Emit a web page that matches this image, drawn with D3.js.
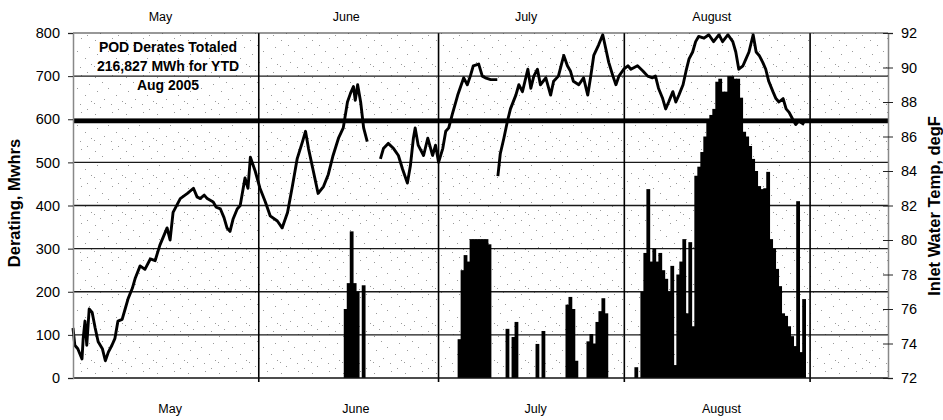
<!DOCTYPE html>
<meta charset="utf-8">
<script src="https://d3js.org/d3.v7.min.js"></script>
<style>
  body { margin: 0; background: #fff; }
  text { font-family: "Liberation Sans", Arial, sans-serif; fill: #000; }
</style>
<div id="chart"></div>
<script>
  // ---- data ----
  // days counted from May 1, 2005
  var monthNames = ["May", "June", "July", "August"];
  var leftTicks = [0, 100, 200, 300, 400, 500, 600, 700, 800];
  var rightTicks = [72, 74, 76, 78, 80, 82, 84, 86, 88, 90, 92];
  var limitMwh = 596;
  var noteLines = ["POD Derates Totaled", "216,827 MWh for YTD", "Aug 2005"];

  // inlet water temperature, degF (null = gap in record)
  var tempDay = [
    0.0, 0.3, 0.8, 1.5, 1.7, 2.0, 2.3, 2.7, 3.2, 3.7, 4.2, 4.9, 5.4, 5.9, 6.5, 7.0, 7.5, 8.2, 8.7, 9.2,
    9.9, 10.4, 11.2, 12.0, 12.9, 13.7, 14.5, 15.7, 16.2, 16.7, 17.9, 19.1, 20.1, 20.7, 21.2, 21.9, 22.4,
    23.4, 23.9, 24.6, 25.2, 25.7, 26.2, 26.7, 27.4, 27.9, 28.7, 29.2, 29.6, 30.4, 31.2, 32.1, 32.9, 34.1,
    34.9, 35.8, 36.6, 37.4, 38.3, 38.8, 39.3, 40.1, 40.9, 41.8, 42.6, 43.4, 44.3, 45.1, 45.8, 46.3, 46.8,
    47.1, 47.5, 48.0, 48.5, 49.1, 50.2,
    51.3, 51.8, 52.6, 53.5, 54.3, 55.0, 55.8, 56.3, 56.8, 57.1, 57.6, 58.5, 59.2, 60.0, 60.5, 61.0, 61.7,
    62.2, 62.7, 63.3, 64.2, 65.2, 65.8, 66.3, 66.8, 67.7, 68.3, 68.8, 69.7, 70.8, 70.85,
    70.9, 71.3, 71.9, 72.5, 73.0, 73.9, 74.4, 75.0, 75.9, 76.4, 76.9, 77.5, 78.0, 78.9, 79.7, 80.2, 81.0,
    81.9, 82.5, 83.0, 83.5, 84.4, 85.2, 85.9, 86.4, 86.9, 87.7, 88.4, 88.9, 89.4, 90.1, 90.6, 91.1, 91.9,
    92.6, 93.1, 94.2, 95.1, 95.9, 96.7, 97.2, 97.7, 98.4, 98.9, 99.4, 100.1, 100.6, 101.1, 101.8, 102.3,
    102.8, 103.4, 103.9, 104.4, 105.3, 106.1, 106.9, 107.8, 108.4, 109.3, 110.1, 110.6, 111.1, 111.8,
    112.3, 112.8, 113.5, 114.0, 114.5, 115.1, 115.6, 116.1, 116.8, 117.3, 117.8, 118.5, 119.0, 119.5,
    120.1, 120.6, 121.1, 122.0
  ];
  var tempF = [
    74.9, 73.9, 73.7, 73.1, 74.3, 75.3, 73.9, 76.0, 75.8, 74.9, 74.1, 73.7, 73.0, 73.5, 73.9, 74.3, 75.3, 75.4, 76.0, 76.6,
    77.2, 77.8, 78.5, 78.3, 78.9, 78.8, 79.7, 80.7, 80.0, 81.6, 82.4, 82.7, 83.0, 82.5, 82.4, 82.6, 82.4,
    82.2, 81.9, 81.8, 81.3, 80.7, 80.5, 81.2, 81.8, 82.0, 83.6, 83.0, 84.8, 84.0, 83.0, 82.2, 81.4, 81.1,
    80.7, 81.6, 83.1, 84.7, 85.7, 86.3, 85.3, 84.0, 82.7, 83.1, 83.8, 84.9, 85.9, 86.5, 88.0, 88.5, 88.9,
    88.1, 89.0, 88.0, 86.5, 85.7, null,
    84.7, 85.3, 85.6, 85.3, 84.9, 84.1, 83.3, 84.3, 85.9, 86.5, 85.5, 84.9, 85.9, 84.9, 85.5, 84.5, 85.3,
    86.3, 86.5, 87.3, 88.4, 89.4, 89.0, 89.5, 90.1, 90.2, 89.5, 89.4, 89.3, 89.3, null,
    83.7, 85.0, 85.9, 86.9, 87.6, 88.4, 89.0, 88.6, 89.9, 88.8, 89.5, 89.9, 89.0, 89.4, 88.4, 89.2, 89.5,
    90.7, 90.1, 89.8, 89.2, 89.0, 89.4, 88.4, 89.5, 90.7, 91.3, 91.9, 91.1, 90.3, 89.5, 89.0, 89.5, 89.9,
    90.1, 89.9, 90.1, 89.8, 89.5, 89.4, 89.5, 88.8, 88.2, 87.6, 88.0, 88.6, 88.0, 88.4, 89.0, 89.8,
    90.5, 90.9, 91.5, 91.8, 91.7, 91.9, 91.5, 91.9, 91.5, 91.9, 91.5, 90.9, 89.9, 90.1,
    90.5, 90.9, 91.9, 90.9, 90.7, 90.3, 89.9, 89.2, 88.6, 88.2, 88.0, 88.2, 87.6, 87.4,
    87.0, 86.7, 86.9, 86.7
  ];

  // derating, MWh (half-day bars, centre day)
  var barDay = [
    45.5, 46.0, 46.5, 47.0, 47.5, 48.5,
    64.5, 65.0, 65.5, 66.0, 66.5, 67.0, 67.5, 68.0, 68.5, 69.0, 69.5,
    72.5, 73.5, 74.0, 77.5, 78.5,
    82.5, 83.0, 83.5, 84.0, 86.0, 86.5, 87.0, 87.5, 88.0, 88.5, 89.0,
    94.0, 95.0, 95.5, 96.0, 96.5, 97.0, 97.5, 98.0, 98.5, 99.0, 99.5, 100.0, 100.5, 101.0, 101.5,
    102.0, 102.5, 103.0, 103.5, 104.0, 104.5, 105.0, 105.5, 106.0, 106.5, 107.0, 107.5, 108.0,
    108.5, 109.0, 109.5, 110.0, 110.5, 111.0, 111.5, 112.0, 112.5, 113.0, 113.5, 114.0, 114.5,
    115.0, 115.5, 116.0, 116.5, 117.0, 117.5, 118.0, 118.5, 119.0, 119.5, 120.0, 120.5, 121.0,
    121.5, 122.0
  ];
  var barMwh = [
    160, 220, 340, 220, 200, 215,
    90, 250, 285, 270, 322, 322, 322, 322, 322, 322, 310,
    114, 95, 130, 79, 109,
    170, 188, 160, 40, 85, 102, 80, 130, 155, 185, 150,
    25, 200, 290, 438, 270, 300, 270, 290, 250, 230, 200, 260, 30, 240, 270,
    322, 150, 315, 120, 469, 490, 524, 560, 600, 610, 624, 687, 694,
    664, 664, 700, 700, 694, 694, 650, 571, 560, 538, 508, 480, 445,
    438, 440, 478, 322, 300, 253, 213, 150, 144, 120, 97, 74, 410,
    60, 183
  ];

  // ---- layout ----
  var width = 943, height = 420;
  var plot = {left: 73, right: 888, top: 33, bottom: 378};

  var svg = d3.select("#chart")
    .append("svg")
      .attr("width", width)
      .attr("height", height);

  var start = Date.UTC(2005, 4, 1);
  function toDate(d) { return new Date(start + d * 864e5); }

  var x = d3.scaleUtc()
    .domain([toDate(0), toDate(136)])
    .range([plot.left, plot.right]);
  var yL = d3.scaleLinear().domain([0, 800]).range([plot.bottom, plot.top]);
  var yR = d3.scaleLinear().domain([72, 92]).range([plot.bottom, plot.top]);

  // speckled scan background
  var dots = [[2,3],[19,1],[9,8],[27,10],[4,17],[15,14],[23,21],[11,25],[29,27],[1,29],[18,30],[7,33],[25,35]];
  var pat = svg.append("defs").append("pattern")
    .attr("id", "speckle")
    .attr("patternUnits", "userSpaceOnUse")
    .attr("width", 31).attr("height", 37);
  pat.selectAll("rect").data(dots).enter().append("rect")
    .attr("x", function(d) { return d[0]; })
    .attr("y", function(d) { return d[1]; })
    .attr("width", 1).attr("height", 1)
    .attr("fill", "#9a9a9a");

  svg.append("rect")
    .attr("x", plot.left).attr("y", plot.top)
    .attr("width", plot.right - plot.left)
    .attr("height", plot.bottom - plot.top)
    .attr("fill", "url(#speckle)");

  // horizontal gridlines
  svg.append("g").selectAll("line")
    .data(leftTicks.filter(function(v) { return v > 0 && v < 800; }))
    .enter().append("line")
      .attr("x1", plot.left).attr("x2", plot.right)
      .attr("y1", function(d) { return yL(d); })
      .attr("y2", function(d) { return yL(d); })
      .attr("stroke", "#1a1a1a")
      .attr("stroke-width", 1.3);

  // month gridlines
  var monthStarts = d3.utcMonth.range(toDate(0), toDate(136));
  svg.append("g").selectAll("line")
    .data(monthStarts.slice(1))
    .enter().append("line")
      .attr("x1", function(d) { return x(d); })
      .attr("x2", function(d) { return x(d); })
      .attr("y1", plot.top).attr("y2", plot.bottom + 4)
      .attr("stroke", "#000")
      .attr("stroke-width", 1.6);

  // derating bars (slight overlap so neighbouring half-days merge)
  var bars = barDay.map(function(d, i) { return {day: d, v: barMwh[i]}; });
  svg.append("g").selectAll("rect")
    .data(bars)
    .enter().append("rect")
      .attr("x", function(d) { return x(toDate(d.day - 0.25)) - 0.4; })
      .attr("width", function(d) { return x(toDate(d.day + 0.25)) - x(toDate(d.day - 0.25)) + 0.8; })
      .attr("y", function(d) { return yL(d.v); })
      .attr("height", function(d) { return yL(0) - yL(d.v); })
      .attr("fill", "#000");

  // limit line
  svg.append("line")
    .attr("x1", plot.left).attr("x2", plot.right)
    .attr("y1", yL(limitMwh)).attr("y2", yL(limitMwh))
    .attr("stroke", "#000")
    .attr("stroke-width", 4.5);

  // temperature line
  var temps = tempDay.map(function(d, i) { return {day: d, t: tempF[i]}; });
  svg.append("path")
    .datum(temps)
    .attr("fill", "none")
    .attr("stroke", "#000")
    .attr("stroke-width", 2.9)
    .attr("stroke-linejoin", "round")
    .attr("d", d3.line()
      .defined(function(d) { return d.t !== null; })
      .x(function(d) { return x(toDate(d.day)); })
      .y(function(d) { return yR(d.t); }));

  // frame
  svg.append("line")
    .attr("x1", plot.left).attr("x2", plot.right)
    .attr("y1", plot.top).attr("y2", plot.top)
    .attr("stroke", "#333").attr("stroke-width", 1.2);
  svg.append("line")
    .attr("x1", plot.left).attr("x2", plot.right)
    .attr("y1", plot.bottom).attr("y2", plot.bottom)
    .attr("stroke", "#111").attr("stroke-width", 1.5);

  // left axis
  var leftAxis = svg.append("g")
    .attr("transform", "translate(" + plot.left + ",0)")
    .call(d3.axisLeft(yL).tickValues(leftTicks).tickSize(5).tickPadding(8));
  leftAxis.select(".domain").attr("stroke", "#888").attr("stroke-width", 1.5);
  leftAxis.selectAll(".tick line").attr("stroke", "#222");
  leftAxis.selectAll("text")
    .style("font-size", "14.5px")
    .style("font-family", "'Liberation Sans', Arial, sans-serif");

  // right axis (ticks cross the frame)
  var rightAxis = svg.append("g")
    .attr("transform", "translate(" + plot.right + ",0)")
    .call(d3.axisRight(yR).tickValues(rightTicks).tickSize(5).tickPadding(8).tickFormat(d3.format("d")));
  rightAxis.select(".domain").attr("stroke", "#888").attr("stroke-width", 1.5);
  rightAxis.selectAll(".tick line").attr("x1", -5).attr("stroke", "#222");
  rightAxis.selectAll("text")
    .style("font-size", "14.5px")
    .style("font-family", "'Liberation Sans', Arial, sans-serif");

  // month labels, top and bottom
  svg.append("g").selectAll("text")
    .data(monthNames)
    .enter().append("text")
      .attr("x", function(d, i) { return x(new Date(monthStarts[i].getTime() + 14.6 * 864e5)); })
      .attr("y", 21)
      .attr("text-anchor", "middle")
      .style("font-size", "12.5px")
      .text(function(d) { return d; });
  svg.append("g").selectAll("text")
    .data(monthNames)
    .enter().append("text")
      .attr("x", function(d, i) { return x(new Date(monthStarts[i].getTime() + 16.2 * 864e5)); })
      .attr("y", 413)
      .attr("text-anchor", "middle")
      .style("font-size", "12.5px")
      .text(function(d) { return d; });

  // axis titles
  svg.append("text")
    .attr("transform", "translate(20,203) rotate(-90)")
    .attr("text-anchor", "middle")
    .style("font-size", "16.5px")
    .style("font-weight", "bold")
    .text("Derating, Mwhrs");
  svg.append("text")
    .attr("transform", "translate(940,206) rotate(-90)")
    .attr("text-anchor", "middle")
    .style("font-size", "16.5px")
    .style("font-weight", "bold")
    .text("Inlet Water Temp, degF");

  // note
  svg.append("g").selectAll("text")
    .data(noteLines)
    .enter().append("text")
      .attr("x", 168)
      .attr("y", function(d, i) { return 52 + i * 19; })
      .attr("text-anchor", "middle")
      .style("font-size", "14px")
      .style("font-weight", "bold")
      .text(function(d) { return d; });
</script>
